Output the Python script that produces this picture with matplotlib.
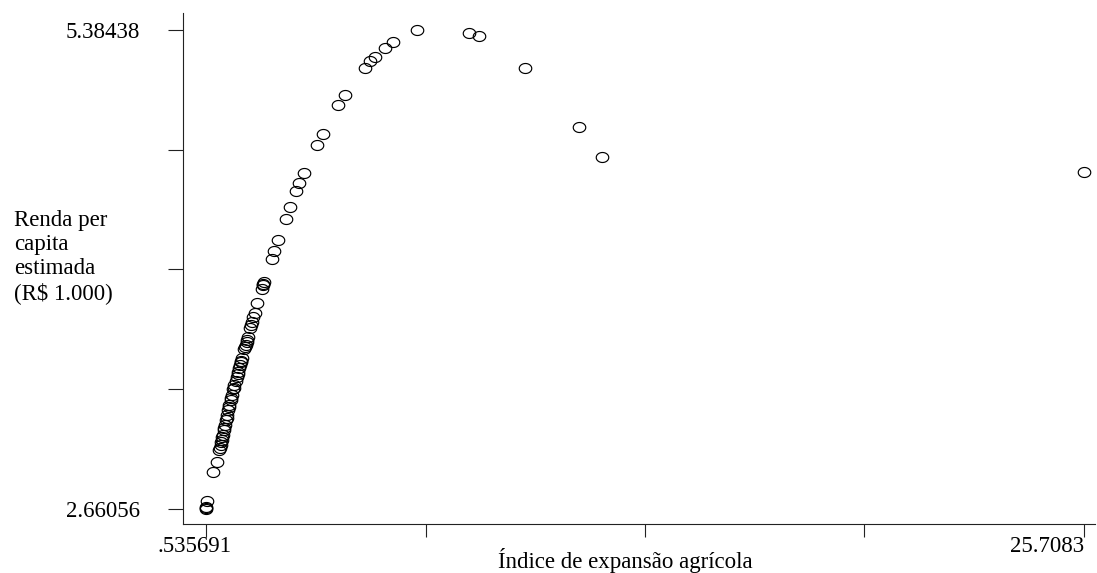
import numpy as np
import matplotlib
matplotlib.use("Agg")
import matplotlib.pyplot as plt
from matplotlib.path import Path
from matplotlib.transforms import ScaledTranslation
from matplotlib.ticker import FixedLocator, FixedFormatter

# ---- data ----
indice_expansao = [
    6.577, 8.076, 8.354, 9.673, 11.221, 11.881, 25.7083,
    5.906, 5.676, 5.372, 5.238, 5.103, 4.512, 4.320, 3.882, 3.710,
    3.354, 3.211, 3.116, 2.944, 2.829, 2.609, 2.477, 2.419,
    2.199, 2.161, 2.133, 2.17, 1.989, 1.940, 1.892, 1.846, 1.817, 1.79,
    1.748, 1.720, 1.70, 1.683, 1.66, 1.634, 1.559, 1.539, 1.55, 1.510,
    1.490, 1.462, 1.44, 1.416, 1.387, 1.347, 1.33, 1.318, 1.273, 1.26,
    1.244, 1.204, 1.19, 1.175, 1.146, 1.13, 1.109, 1.080, 1.065, 1.052,
    1.014, 1.00, 0.986, 0.97, 0.957, 0.935, 0.917,
    0.842, 0.745, 0.573, 0.536, 0.536, 0.535691,
]
renda_per_capita = [
    5.38438, 5.369, 5.350, 5.170, 4.833, 4.660, 4.577,
    5.316, 5.280, 5.229, 5.206, 5.170, 5.013, 4.958, 4.795, 4.730,
    4.573, 4.514, 4.469, 4.376, 4.310, 4.188, 4.129, 4.082,
    3.953, 3.934, 3.910, 3.94, 3.830, 3.773, 3.754, 3.726, 3.707, 3.69,
    3.640, 3.622, 3.61, 3.593, 3.58, 3.569, 3.518, 3.498, 3.50, 3.479,
    3.461, 3.441, 3.43, 3.413, 3.390, 3.366, 3.35, 3.341, 3.309, 3.29,
    3.280, 3.252, 3.238, 3.224, 3.195, 3.18, 3.167, 3.138, 3.12, 3.110,
    3.081, 3.067, 3.053, 3.04, 3.025, 3.01, 2.996,
    2.929, 2.869, 2.708, 2.674, 2.665, 2.66056,
]

x_tick_values = [0.535691, 6.8288565, 13.122022, 19.4151875, 25.7083]
x_tick_labels = [".535691", "", "", "", "25.7083"]
y_tick_values = [2.66056, 3.341515, 4.02247, 4.703425, 5.38438]
y_tick_labels = ["2.66056", "", "", "", "5.38438"]

x_title = "Índice de expansão agrícola"
y_title = "Renda per\ncapita\nestimada\n(R$ 1.000)"

# ---- figure ----
FONT = "Liberation Serif"
FS = 16.5

fig = plt.figure(figsize=(10.97, 5.73), dpi=100)
ax = fig.add_axes([183 / 1097, 1 - 524 / 573, 912 / 1097, 511 / 573])

t = np.linspace(0, 2 * np.pi, 60)
ellipse = Path(np.column_stack([1.25 * np.cos(t), np.sin(t)]), closed=True)

ax.plot(indice_expansao, renda_per_capita, linestyle="none", marker=ellipse,
        markersize=9.0, markerfacecolor="none", markeredgecolor="black",
        markeredgewidth=0.85)

ax.set_xlim(-0.124, 26.024)
ax.set_ylim(2.575, 5.481)

for s in ["top", "right"]:
    ax.spines[s].set_visible(False)
for s in ["left", "bottom"]:
    ax.spines[s].set_linewidth(0.8)
    ax.spines[s].set_color("#222222")

ax.xaxis.set_major_locator(FixedLocator(x_tick_values))
ax.xaxis.set_major_formatter(FixedFormatter(x_tick_labels))
ax.yaxis.set_major_locator(FixedLocator(y_tick_values))
ax.yaxis.set_major_formatter(FixedFormatter(y_tick_labels))

ax.tick_params(axis="x", length=9, width=0.8, pad=0, labelsize=FS, color="#222222")
ax.tick_params(axis="y", length=11, width=0.8, pad=20, labelsize=FS, color="#222222")

for lab in ax.get_xticklabels() + ax.get_yticklabels():
    lab.set_fontfamily(FONT)

xl = ax.get_xticklabels()
xl[0].set_transform(xl[0].get_transform() +
                    ScaledTranslation(-12 / 100, 0, fig.dpi_scale_trans))
xl[-1].set_horizontalalignment("right")

ax.set_xlabel(x_title, fontsize=FS, fontfamily=FONT)
ax.xaxis.set_label_coords(0.4846, -0.047)
ax.xaxis.label.set_verticalalignment("top")

fig.text(14 / 1097, 1 - 257 / 573, y_title, fontsize=FS, fontfamily=FONT,
         ha="left", va="center", linespacing=1.18, multialignment="left")

fig.savefig("out.png", dpi=100)
